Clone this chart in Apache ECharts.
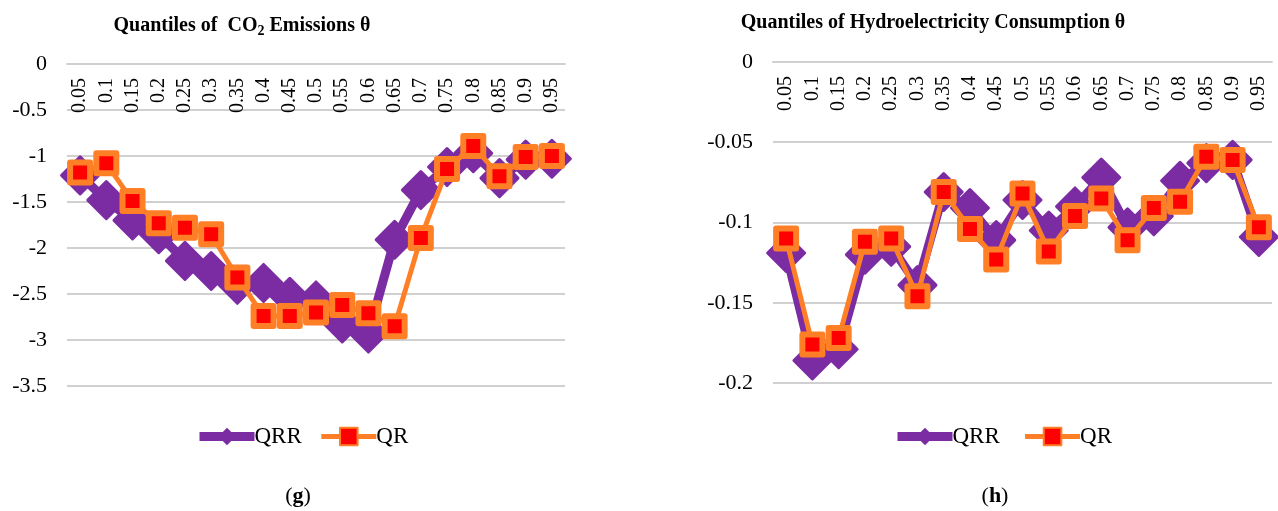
<!DOCTYPE html>
<html>
<head>
<meta charset="utf-8">
<title>Quantiles</title>
<script src="https://cdn.jsdelivr.net/npm/echarts@6/dist/echarts.min.js"></script>
<style>
  html, body { margin: 0; padding: 0; background: #fff; }
  #chart { width: 1278px; height: 511px; }
</style>
</head>
<body>
<div id="chart"></div>
<script>
  // quantile levels (x axis)
  var quantiles = ['0.05', '0.1', '0.15', '0.2', '0.25', '0.3', '0.35', '0.4', '0.45', '0.5',
                   '0.55', '0.6', '0.65', '0.7', '0.75', '0.8', '0.85', '0.9', '0.95'];

  // (g) CO2 emissions
  var co2QRR = [-1.21, -1.48, -1.70, -1.85, -2.14, -2.25, -2.40, -2.38, -2.53, -2.57,
                -2.82, -2.93, -1.91, -1.37, -1.12, -0.97, -1.24, -1.04, -1.03];
  var co2QR = [-1.18, -1.08, -1.49, -1.73, -1.78, -1.85, -2.32, -2.74, -2.74, -2.70,
               -2.62, -2.71, -2.85, -1.89, -1.14, -0.89, -1.22, -1.01, -1.00];

  // (h) hydroelectricity consumption
  var hydroQRR = [-0.119, -0.186, -0.179, -0.120, -0.115, -0.139, -0.081, -0.091, -0.111, -0.086,
                  -0.105, -0.090, -0.072, -0.103, -0.096, -0.074, -0.063, -0.061, -0.109];
  var hydroQR = [-0.110, -0.176, -0.172, -0.112, -0.110, -0.146, -0.081, -0.104, -0.123, -0.082,
                 -0.118, -0.096, -0.085, -0.111, -0.091, -0.087, -0.059, -0.061, -0.103];

  // y axis ranges
  var co2Range = [-3.5, 0, 0.5];
  var hydroRange = [-0.2, 0, 0.05];

  var purple = '#7B2CA3';
  var orange = '#FF7F27';
  var serif = 'Liberation Serif';

  var myChart = echarts.init(document.getElementById('chart'));

  function xAxisFor(i) {
    return {
      type: 'category',
      gridIndex: i,
      position: 'top',
      data: quantiles,
      axisLine: { show: true, lineStyle: { color: '#d0d0d0', width: 2 } },
      axisTick: { show: false },
      axisLabel: {
        inside: true, rotate: 90, margin: 14, interval: 0,
        color: '#000', fontFamily: serif, fontSize: 20
      }
    };
  }
  function yAxisFor(i, r) {
    return {
      type: 'value',
      gridIndex: i,
      min: r[0], max: r[1], interval: r[2],
      axisLine: { show: false },
      axisTick: { show: false },
      splitLine: { lineStyle: { color: '#d0d0d0', width: 2 } },
      axisLabel: { margin: 20, color: '#000', fontFamily: serif, fontSize: 22 }
    };
  }
  function qrr(name, i, data) {
    return {
      name: name, type: 'line', xAxisIndex: i, yAxisIndex: i, data: data,
      symbol: 'diamond', symbolSize: 37,
      lineStyle: { color: purple, width: 9 },
      itemStyle: { color: purple, borderColor: purple, borderWidth: 3, borderJoin: 'round' },
      z: 2
    };
  }
  function qr(name, i, data) {
    return {
      name: name, type: 'line', xAxisIndex: i, yAxisIndex: i, data: data,
      symbol: 'rect', symbolSize: 20,
      lineStyle: { color: orange, width: 5 },
      itemStyle: { color: '#FF0000', borderColor: orange, borderWidth: 6, borderJoin: 'round' },
      z: 3
    };
  }
  function titleStyle() {
    return {
      fontFamily: serif, fontWeight: 'bold', fontSize: 20, color: '#000',
      rich: {
        t: { fontFamily: serif, fontWeight: 'bold', fontSize: 20, color: '#000' },
        sub: { fontFamily: serif, fontWeight: 'bold', fontSize: 14, color: '#000', padding: [11, 0, 0, 0] }
      }
    };
  }
  function captionStyle() {
    return {
      fontFamily: serif, fontWeight: 'normal', fontSize: 22, color: '#000',
      rich: {
        n: { fontFamily: serif, fontSize: 22, color: '#000' },
        b: { fontFamily: serif, fontWeight: 'bold', fontSize: 22, color: '#000' }
      }
    };
  }
  function legendFor(center, suffix) {
    return {
      data: [
        { name: 'QRR' + suffix, lineStyle: { width: 9 }, itemStyle: { borderWidth: 0 } },
        { name: 'QR' + suffix, lineStyle: { width: 5 } }
      ],
      top: 420, left: center, itemWidth: 55, itemHeight: 22, itemGap: 17,
      textStyle: { fontFamily: serif, fontSize: 23, color: '#000', padding: [0, 0, 0, -5] }
    };
  }

  myChart.setOption({
    animation: false,
    title: [
      { text: '{t|Quantiles of  CO}{sub|2}{t| Emissions θ}', left: 237, top: 8, textAlign: 'center', textStyle: titleStyle() },
      { text: 'Quantiles of Hydroelectricity Consumption θ', left: 928, top: 8, textAlign: 'center', textStyle: titleStyle() },
      { text: '{n|(}{b|g}{n|)}', left: 293, top: 480, textAlign: 'center', textStyle: captionStyle() },
      { text: '{n|(}{b|h}{n|)}', left: 990, top: 480, textAlign: 'center', textStyle: captionStyle() }
    ],
    legend: [legendFor(190, ''), legendFor(888, ' ')],
    grid: [
      { left: 67, top: 64, width: 498, height: 322 },
      { left: 773, top: 62, width: 499, height: 321 }
    ],
    xAxis: [xAxisFor(0), xAxisFor(1)],
    yAxis: [yAxisFor(0, co2Range), yAxisFor(1, hydroRange)],
    series: [
      qrr('QRR', 0, co2QRR),
      qr('QR', 0, co2QR),
      qrr('QRR ', 1, hydroQRR),
      qr('QR ', 1, hydroQR)
    ]
  });
</script>
</body>
</html>
